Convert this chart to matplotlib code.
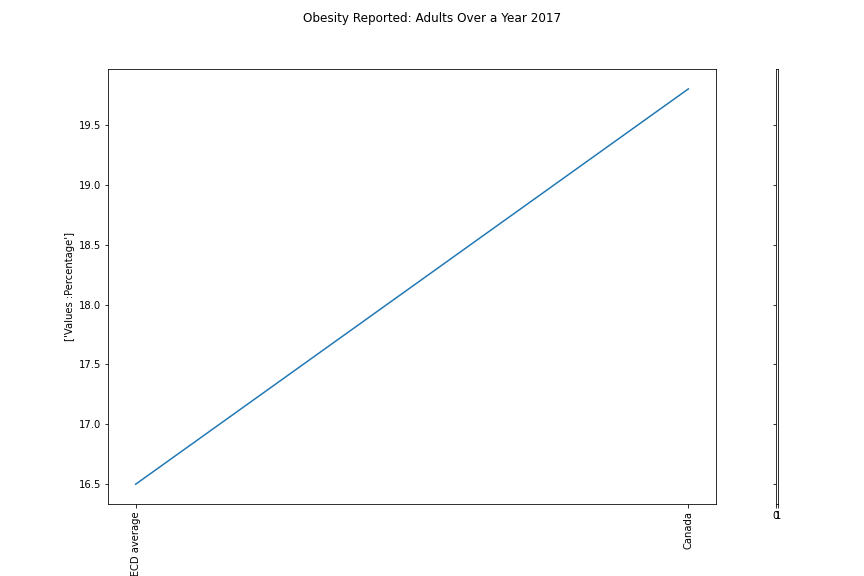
import matplotlib
matplotlib.use("Agg")
import matplotlib.pyplot as plt

countries = ["OECD average", "Canada"]
values = [16.5, 19.8]
title = "Obesity Reported: Adults Over a Year 2017"

fig = plt.figure(figsize=(12, 8), dpi=72)
fig.suptitle(title)

# main axes
ax = fig.add_axes([0.125, 0.125, 0.7037, 0.755])
ax.plot(countries, values, color="#1f77b4")
ax.set_ylabel("['Values :Percentage']")
ax.set_xticks(range(len(countries)))
ax.set_xticklabels(countries, rotation=90)

# tiny empty second axes sharing y
ax2 = fig.add_axes([0.898, 0.125, 0.0025, 0.755], sharey=ax)
ax2.set_xlim(0, 1)
ax2.set_xticks([0, 1])
ax2.tick_params(axis="y", labelleft=False)

fig.savefig("out.png", dpi=72)
